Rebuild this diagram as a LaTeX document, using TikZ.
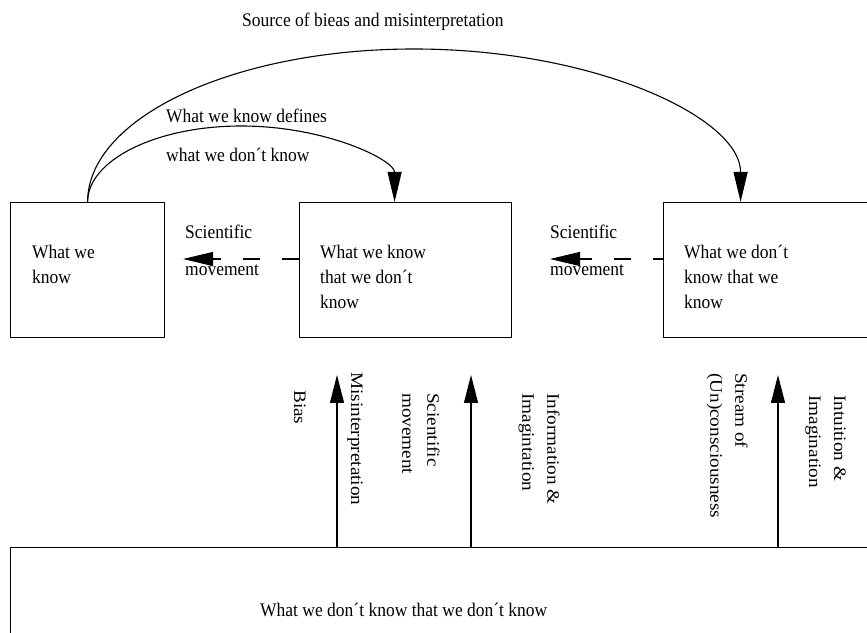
\documentclass[tikz,border=0pt]{standalone}
\usepackage{fontspec}
\setmainfont{Liberation Serif}[FakeStretch=0.911]
\newfontfamily\rotfont{Liberation Serif}[FakeStretch=1.097]
\usetikzlibrary{arrows.meta,calc}
\tikzset{
  box/.style={draw, line width=1.2pt, inner sep=0pt, anchor=north west, minimum height=135pt},
  txt/.style={inner sep=0pt, align=left, anchor=north west, font=\fontsize{19.2}{25}\selectfont},
  basetxt/.style={inner sep=0pt, anchor=base west, font=\fontsize{19.2}{25}\selectfont},
  vtxt/.style={inner sep=0pt, align=left, rotate=-90, anchor=north west, font=\rotfont\fontsize{17.5}{25}\selectfont},
  curvearrow/.style={line width=1.1pt, -{Triangle[length=30pt,width=14pt]}},
  uparrow/.style={line width=1.1pt, -{Triangle[length=28pt,width=14pt]}},
  dasharrow/.style={line width=1.1pt, dash pattern=on 17pt off 22pt, -{Triangle[length=30pt,width=14pt]}}
}
\begin{document}
\begin{tikzpicture}[x=1pt,y=1pt]
\useasboundingbox (0,0) rectangle (867,632);
\clip (0,0) rectangle (867,632);
% boxes
\node[box, minimum width=154pt] (A) at (10,430) {};
\node[box, minimum width=212pt] (B) at (299,430) {};
\node[box, minimum width=260pt] (C) at (663,430) {};
\node[box, minimum width=900pt, minimum height=140pt] (D) at (10,85) {};
% box texts
\node[txt] (At) at (32,387) {What we\\know};
\node[txt] (Bt) at (320,387) {What we know\\that we don´t\\know};
\node[txt] (Ct) at (684,387) {What we don´t\\know that we\\know};
\node[basetxt] (Dt) at (260,16) {What we don´t know that we don´t know};
% top labels
\node[basetxt] (src) at (242,605) {Source of bieas and misinterpretation};
\node[txt] (def) at (166,523) {What we know defines\\[14pt]what we don´t know};
\node[txt] (sm1) at (185,407) {Scientific\\[12pt]movement};
\node[txt] (sm2) at (550,407) {Scientific\\[12pt]movement};
% arcs
\draw[curvearrow] (A.north) arc[start angle=180, end angle=0, x radius=326.5, y radius=153] coordinate (Cin);
\draw[curvearrow] (A.north) arc[start angle=180, end angle=0, x radius=153.5, y radius=76] coordinate (Bin);
% dashed arrows
\coordinate (tipA) at (183,373);
\coordinate (tipC) at (550,373);
\draw[dasharrow] (B.west |- tipA) -- (tipA);
\draw[dasharrow, dash phase=7pt] (C.west |- tipC) -- (tipC);
% vertical arrows
\coordinate (v1) at (337,257);
\coordinate (v2) at (471,257);
\coordinate (v3) at (778,257);
\draw[uparrow] (v1 |- D.north) -- (v1);
\draw[uparrow] (v2 |- D.north) -- (v2);
\draw[uparrow] (v3 |- D.north) -- (v3);
% vertical labels
\node[vtxt] (bias) at (306,242) {Bias};
\node[vtxt] (mis) at (363,260) {Misinterpretation};
\node[vtxt] (scim) at (440,239) {Scientific\\movement};
\node[vtxt] (info) at (560,239) {Information \&\\Imagintation};
\node[vtxt] (strm) at (748,259) {Stream of\\(Un)consciousness};
\node[vtxt] (intu) at (846,237) {Intuition \&\\Imagination};
\end{tikzpicture}
\end{document}
